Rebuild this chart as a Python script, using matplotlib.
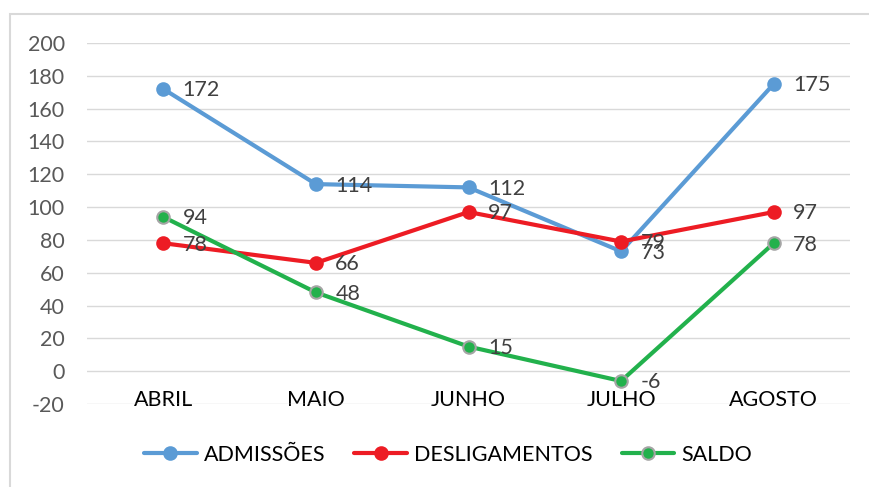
import matplotlib
matplotlib.use("Agg")
import matplotlib.pyplot as plt
from matplotlib.patches import Rectangle

months = ["ABRIL", "MAIO", "JUNHO", "JULHO", "AGOSTO"]
admissoes = [172, 114, 112, 73, 175]
desligamentos = [78, 66, 97, 79, 97]
saldo = [94, 48, 15, -6, 78]
yticks = [-20, 0, 20, 40, 60, 80, 100, 120, 140, 160, 180, 200]

plt.rcParams['font.family'] = ['Lato', 'DejaVu Sans']
plt.rcParams['axes.unicode_minus'] = False

fig = plt.figure(figsize=(8.69, 4.87), dpi=100)
W, H = 869, 487
fig.patches.append(Rectangle((10 / W, -0.01), 1.02, 1 - 14 / H + 0.01,
                             transform=fig.transFigure, fill=False,
                             edgecolor='#D9D9D9', linewidth=1.5))

ax = fig.add_axes([87 / W, 1 - 404 / H, (850 - 87) / W, (404 - 43) / H])
x = list(range(len(months)))

series = [
    ("ADMISSÕES", admissoes, '#5B9BD5', '#5B9BD5'),
    ("DESLIGAMENTOS", desligamentos, '#ED1C24', '#ED1C24'),
    ("SALDO", saldo, '#22B14C', '#A5A5A5'),
]
for name, vals, c, ec in series:
    ax.plot(x, vals, color=c, linewidth=3, marker='o', markersize=9,
            markerfacecolor=c, markeredgecolor=ec, markeredgewidth=1.5,
            label=name, solid_capstyle='round')
    for xi, v in zip(x, vals):
        ax.annotate(str(v), (xi, v), xytext=(14, -1), textcoords='offset points',
                    ha='left', va='center', fontsize=15.5, color='#404040')

ax.set_xlim(-0.5, len(months) - 0.5)
ax.set_ylim(-20, 200)
ax.set_yticks(yticks)
ax.set_xticks(x)
ax.set_xticklabels(months)
ax.yaxis.grid(True, color='#D9D9D9', linewidth=1)
ax.set_axisbelow(True)
for s in ax.spines.values():
    s.set_visible(False)
ax.tick_params(axis='y', length=0, pad=16, labelsize=15.5, labelcolor='#595959')
ax.tick_params(axis='x', length=0, pad=-10, labelsize=15.5, labelcolor='#000000')

leg = fig.legend(loc='center', bbox_to_anchor=(448 / W, 1 - 455 / H), ncol=3,
                 frameon=False, fontsize=15.5, handlelength=2.45,
                 columnspacing=1.35, handletextpad=0.33)
for t in leg.get_texts():
    t.set_color('#000000')

fig.savefig('out.png', dpi=100)
